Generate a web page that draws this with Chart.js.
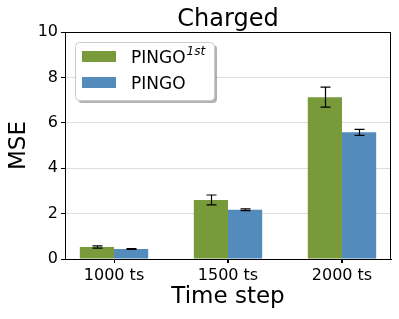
<!DOCTYPE html>
<html>
<head>
<meta charset="utf-8">
<script src="https://cdn.jsdelivr.net/npm/chart.js@4"></script>
<style>
  html, body { margin: 0; padding: 0; background: #fff; }
  #wrap { width: 399px; height: 319px; }
</style>
</head>
<body>
<div id="wrap"><canvas id="mseChart" width="399" height="319"></canvas></div>
<script>
    let steps = ["1000 ts", "1500 ts", "2000 ts"];
    let pingoFirst = [0.53, 2.6, 7.13];
    let pingoFirstErr = [0.05, 0.22, 0.44];
    let pingo = [0.44, 2.17, 5.58];
    let pingoErr = [0.02, 0.04, 0.13];
    let yTicks = [0, 2, 4, 6, 8, 10];

    let green = "#789a3b";
    let blue = "#538bbd";
    let font = "'DejaVu Sans', sans-serif";

    // error bars + frame + title + legend box
    let extras = {
        id: "extras",
        afterDatasetsDraw(chart) {
            let c = chart.ctx;
            let ys = chart.scales.y;
            let errs = [pingoFirstErr, pingoErr];
            c.save();
            c.strokeStyle = "#000";
            c.lineWidth = 1.2;
            chart.data.datasets.forEach((ds, i) => {
                chart.getDatasetMeta(i).data.forEach((bar, j) => {
                    let v = ds.data[j].y, e = errs[i][j];
                    let x = Math.round(bar.x) + 0.5;
                    let t = ys.getPixelForValue(v + e);
                    let b = ys.getPixelForValue(v - e);
                    c.beginPath();
                    c.moveTo(x, t); c.lineTo(x, b);
                    c.moveTo(x - 5, t); c.lineTo(x + 5, t);
                    c.moveTo(x - 5, b); c.lineTo(x + 5, b);
                    c.stroke();
                });
            });
            c.restore();
        },
        afterDraw(chart) {
            let c = chart.ctx;
            let a = chart.chartArea;
            let xs = chart.scales.x;
            c.save();
            c.strokeStyle = "#000";
            c.lineWidth = 1;
            c.strokeRect(a.left + 0.5, a.top + 0.5, a.right - a.left - 1, a.bottom - a.top);

            // x tick marks at category centres
            steps.forEach((s, i) => {
                let x = Math.round(xs.getPixelForValue(i)) + 0.5;
                c.beginPath();
                c.moveTo(x, a.bottom);
                c.lineTo(x, a.bottom + 4);
                c.stroke();
            });

            c.fillStyle = "#000";
            c.font = "24px " + font;
            c.textAlign = "center";
            c.textBaseline = "alphabetic";
            c.fillText("Charged", (a.left + a.right) / 2, 26);

            // legend
            let lx = 75, ly = 42, lw = 139, lh = 58;
            c.fillStyle = "rgba(0,0,0,0.3)";
            c.beginPath(); c.roundRect(lx + 3, ly + 3, lw, lh, 4); c.fill();
            c.fillStyle = "#fff";
            c.strokeStyle = "#ccc";
            c.beginPath(); c.roundRect(lx + 0.5, ly + 0.5, lw, lh, 4); c.fill(); c.stroke();

            c.fillStyle = green;
            c.fillRect(82, 51, 34, 11);
            c.fillStyle = blue;
            c.fillRect(82, 77, 34, 11);

            c.fillStyle = "#000";
            c.textAlign = "left";
            c.textBaseline = "alphabetic";
            c.font = "17px " + font;
            c.fillText("PINGO", 131, 63);
            let w = c.measureText("PINGO").width;
            c.font = "italic 12px " + font;
            c.fillText("1st", 131 + w + 1, 55);
            c.font = "17px " + font;
            c.fillText("PINGO", 131, 89);
            c.restore();
        }
    };

    let ctx = document.getElementById("mseChart").getContext("2d");

    new Chart(ctx, {
        type: "bar",
        data: {
            datasets: [
                { label: "PINGO 1st", data: pingoFirst.map((v, i) => ({ x: i, y: v })), backgroundColor: green },
                { label: "PINGO", data: pingo.map((v, i) => ({ x: i, y: v })), backgroundColor: blue }
            ]
        },
        options: {
            responsive: false,
            animation: false,
            layout: { padding: { left: 0, right: 8, top: 32, bottom: 0 } },
            datasets: { bar: { categoryPercentage: 0.6, barPercentage: 1.0 } },
            plugins: {
                legend: { display: false },
                tooltip: { enabled: false }
            },
            scales: {
                x: {
                    type: "linear",
                    min: -0.43,
                    max: 2.43,
                    offset: false,
                    afterBuildTicks(s) { s.ticks = steps.map((t, i) => ({ value: i })); },
                    grid: { offset: false, drawOnChartArea: false, tickLength: 4, tickColor: "#000" },
                    border: { color: "#000" },
                    ticks: { color: "#000", font: { family: font, size: 16 }, padding: 3, callback: v => steps[v] },
                    title: { display: true, text: "Time step", color: "#000", font: { family: font, size: 23 }, padding: { top: 0, bottom: 8 } },
                    afterFit(s) { s.height = 60; }
                },
                y: {
                    min: 0,
                    max: 10,
                    afterBuildTicks(s) { s.ticks = yTicks.map(v => ({ value: v })); },
                    grid: { color: "#dddddd", tickLength: 4, tickColor: "#000" },
                    border: { color: "#000" },
                    ticks: { color: "#000", font: { family: font, size: 16 }, padding: 3 },
                    title: { display: true, text: "MSE", color: "#000", font: { family: font, size: 23 }, padding: { top: 5, bottom: 0 } },
                    afterFit(s) { s.width = 65; }
                }
            }
        },
        plugins: [extras]
    });
</script>
</body>
</html>
